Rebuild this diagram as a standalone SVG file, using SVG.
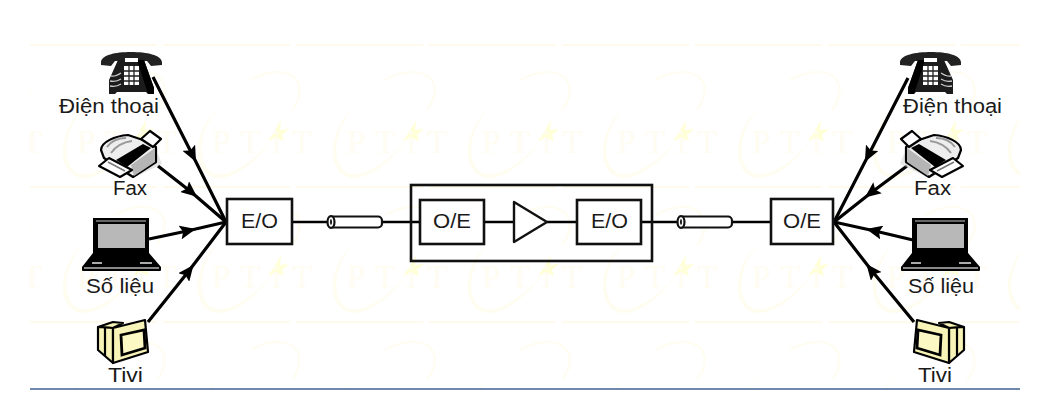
<svg xmlns="http://www.w3.org/2000/svg" width="1040" height="415" viewBox="0 0 1040 415">
<style>
.lbl{font-family:"Liberation Sans",Arial,sans-serif;font-size:20px;fill:#1a1a1a}
.box{fill:#fff;stroke:#111;stroke-width:2.6}
.wire{fill:none;stroke:#000;stroke-width:2.4}
.arr{fill:none;stroke:#000;stroke-width:3.2;marker-mid:url(#ah)}
.wmt{font-family:"Liberation Serif",serif;font-size:33px;fill:#fffcf2}
.wms{fill:none;stroke:#fffcf0;stroke-width:2}
.ic{stroke:#000;stroke-width:2.2;stroke-linejoin:round}
</style>
<defs>
<marker id="ah" viewBox="0 0 16 14" refX="7" refY="7" markerWidth="16" markerHeight="14" markerUnits="userSpaceOnUse" orient="auto"><path d="M0,0 L16,7 L0,14 L3,7Z" fill="#000"/></marker>
<clipPath id="wc"><rect x="30" y="44" width="990" height="345"/></clipPath>
<g id="tile">
<path d="M220,107 C202,125 195,155 208,170 C222,183 250,165 272,140 C250,170 222,186 207,174 C190,160 198,125 220,107Z" fill="#fffcf0"/>
<path class="wms" d="M250,80 C268,70 290,68 298,82 C302,92 298,102 292,110"/>
<path d="M281,120 L280,130 L289,129 L282,135 L284,141 L276,138 L268,141 L273,134Z" fill="#ffffd8"/>
<text class="wmt" x="212" y="153">P</text><text class="wmt" x="240" y="153">T</text><text class="wmt" x="272" y="153" font-size="24">i</text><text class="wmt" x="292" y="153">T</text>
</g>
<g id="cable"><rect x="331" y="216.500" width="53" height="11" rx="4" fill="#fff" stroke="#111" stroke-width="2.200"/><ellipse cx="333" cy="222" rx="3.500" ry="5.800" fill="#fff" stroke="#111" stroke-width="2.200"/><ellipse cx="333" cy="222" rx="1" ry="3" fill="#111"/></g>
<g id="phone">
<path d="M101,62 C102,55 115,52 131,52 C147,52 161,55 162,62 L162,65 L151,66 L147,61 L115,61 L111,66 L101,65Z" fill="#222"/>
<path d="M118,60 L144,60 L154,88 L154,94 L148,94 L146,92 L117,92 L115,94 L109,94 L109,80Z" fill="#1c1c1c"/>
<path d="M137,60 L144,60 L154,88 L154,94 L148,94Z" fill="#000"/>
<rect x="125" y="58" width="13" height="4" fill="#fff"/>
<rect x="124" y="66" width="15" height="19" fill="#fff"/>
<path d="M129,66 V85 M134,66 V85 M124,71 H139 M124,76 H139 M124,81 H139" stroke="#222" stroke-width="1.300"/>
<path d="M111,76 C115,77 118,75 121,73 M110,81 C115,82 118,81 121,79 M110,86 C115,87 118,86 121,84" fill="none" stroke="#ccc" stroke-width="1.300"/>
</g>
<g id="fax">
<path d="M120,172 L133,178 L162,164 L158,154Z" fill="#ccc" opacity=".5"/>
<path class="ic" d="M101,150 C101,142 115,136 128,135 L143,140 L156,147 L156,162 L133,177 L104,158Z" fill="#eee"/>
<path d="M155,148 L155,162 L134,176 L131,165Z" fill="#b5b5b5"/>
<path d="M116,160 L143,144 L151,148 L127,167Z" fill="#000"/>
<path d="M107,147 C112,140 120,138 126,138 M111,153 C116,146 124,142 132,141" fill="none" stroke="#999" stroke-width="2"/>
<path class="ic" d="M141,139 L150,131 L161,139 L153,147Z" fill="#fff"/>
<path class="ic" d="M99,166 L109,158 L132,170 L120,177Z" fill="#fff"/>
<path d="M108,162 L125,171" stroke="#777" stroke-width="1.500"/>
</g>
<g id="laptop">
<rect x="93" y="218" width="56" height="35" fill="#000"/>
<rect x="96" y="220" width="50" height="2" fill="#666"/>
<rect x="98" y="224" width="47" height="24" fill="#b8b8b8"/>
<path d="M93,253 H149 L161,267 V270 Q161,271 160,271 H83 Q82,271 82,270 V267Z" fill="#000"/>
<rect x="92" y="262" width="10" height="2" fill="#aaa"/>
<rect x="140" y="262" width="12" height="2" fill="#aaa"/>
<rect x="84" y="267" width="75" height="2" fill="#888"/>
</g>
<g id="tv">
<path class="ic" d="M98,327 L113,322 L123,323 L113,328Z" fill="#f8f4b8"/>
<path class="ic" d="M98,327 L113,328 L113,363 L98,350Z" fill="#f8f4b8"/>
<path class="ic" d="M105,328 L105,356" fill="none"/>
<path class="ic" d="M113,328 L145,320 L148,352 L113,363Z" fill="#f8f4b8"/>
<path d="M121,335 L144,330 L145,348 L122,355Z" fill="#fbf8c4" stroke="#000" stroke-width="2.800"/>
</g>
</defs>
<rect width="1040" height="415" fill="#fff"/>
<g id="watermark" clip-path="url(#wc)">
<path d="M30,45 H1020 M30,187 H1020 M30,322 H1020" stroke="#fffaec" stroke-width="2" stroke-dasharray="127 6" fill="none"/>
<use href="#tile" x="-270"/><use href="#tile" x="-135"/><use href="#tile"/><use href="#tile" x="135"/><use href="#tile" x="270"/><use href="#tile" x="405"/><use href="#tile" x="540"/><use href="#tile" x="675"/><use href="#tile" x="810"/>
<use href="#tile" x="-270" y="135"/><use href="#tile" x="-135" y="135"/><use href="#tile" y="135"/><use href="#tile" x="135" y="135"/><use href="#tile" x="270" y="135"/><use href="#tile" x="405" y="135"/><use href="#tile" x="540" y="135"/><use href="#tile" x="675" y="135"/><use href="#tile" x="810" y="135"/>
<use href="#tile" x="-270" y="270"/><use href="#tile" x="-135" y="270"/><use href="#tile" y="270"/><use href="#tile" x="135" y="270"/><use href="#tile" x="270" y="270"/><use href="#tile" x="405" y="270"/><use href="#tile" x="540" y="270"/><use href="#tile" x="675" y="270"/><use href="#tile" x="810" y="270"/>
</g>
<line id="baseline" x1="30" y1="389" x2="1020" y2="389" stroke="#3f6092" stroke-width="1.300"/>
<g id="connectors">
<path class="wire" d="M292,222 H420 M484,222 H514 M547,222 H577 M641,222 H771"/>
<path class="arr" d="M153,77 L192,154 L226,222"/>
<path class="arr" d="M158,166 L190,191 L226,222"/>
<path class="arr" d="M149,239 L187,231 L226,222"/>
<path class="arr" d="M148,322 L188,272 L226,222"/>
<path class="arr" d="M908,78 L869,154 L834,222"/>
<path class="arr" d="M907,166 L872,192 L834,222"/>
<path class="arr" d="M913,240 L875,231 L834,222"/>
<path class="arr" d="M914,322 L872,271 L834,222"/>
</g>
<g id="cable-left"><use href="#cable" x="-2"/></g>
<g id="cable-right"><use href="#cable" x="348"/></g>
<g id="repeater"><rect x="411" y="185" width="241" height="76" fill="none" stroke="#111" stroke-width="2.600"/></g>
<g id="eo-left"><rect class="box" x="227" y="199" width="65" height="45"/><text class="lbl" x="241" y="227.500" textLength="37" lengthAdjust="spacingAndGlyphs">E/O</text></g>
<g id="oe-mid"><rect class="box" x="420" y="200" width="64" height="44"/><text class="lbl" x="433" y="227.500" textLength="38" lengthAdjust="spacingAndGlyphs">O/E</text></g>
<g id="amp"><path d="M514,202 L547,222 L514,242Z" fill="#fff" stroke="#111" stroke-width="2.400" stroke-linejoin="round"/></g>
<g id="eo-mid"><rect class="box" x="577" y="200" width="64" height="44"/><text class="lbl" x="591" y="227.500" textLength="37" lengthAdjust="spacingAndGlyphs">E/O</text></g>
<g id="oe-right"><rect class="box" x="771" y="199" width="62" height="45"/><text class="lbl" x="783" y="227.500" textLength="38" lengthAdjust="spacingAndGlyphs">O/E</text></g>
<g id="phone-left"><use href="#phone"/><text class="lbl" x="59" y="113" textLength="100" lengthAdjust="spacingAndGlyphs">Điện thoại</text></g>
<g id="fax-left"><use href="#fax"/><text class="lbl" x="113" y="195" textLength="34" lengthAdjust="spacingAndGlyphs">Fax</text></g>
<g id="laptop-left"><use href="#laptop"/><text class="lbl" x="86" y="293" textLength="68" lengthAdjust="spacingAndGlyphs">Số liệu</text></g>
<g id="tv-left"><use href="#tv"/><text class="lbl" x="108" y="382" textLength="35" lengthAdjust="spacingAndGlyphs">Tivi</text></g>
<g id="phone-right"><use href="#phone" transform="translate(1062,0) scale(-1,1)"/><text class="lbl" x="903" y="113" textLength="99" lengthAdjust="spacingAndGlyphs">Điện thoại</text></g>
<g id="fax-right"><use href="#fax" transform="translate(1062,0) scale(-1,1)"/><text class="lbl" x="914" y="195" textLength="37" lengthAdjust="spacingAndGlyphs">Fax</text></g>
<g id="laptop-right"><use href="#laptop" x="819"/><text class="lbl" x="908" y="293" textLength="66" lengthAdjust="spacingAndGlyphs">Số liệu</text></g>
<g id="tv-right"><use href="#tv" transform="translate(1062,0) scale(-1,1)"/><text class="lbl" x="918" y="382" textLength="34" lengthAdjust="spacingAndGlyphs">Tivi</text></g>
</svg>
